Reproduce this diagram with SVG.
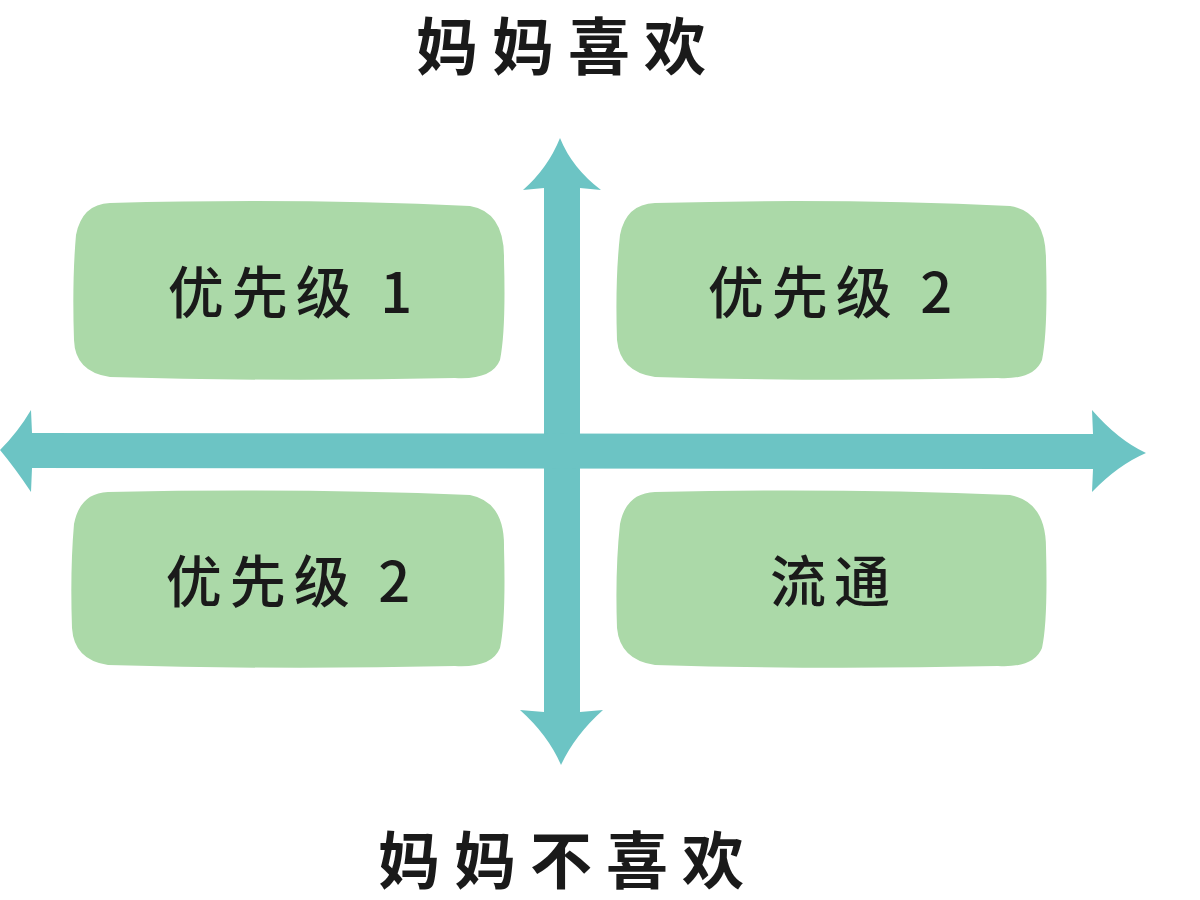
<svg xmlns="http://www.w3.org/2000/svg" width="1200" height="900" viewBox="0 0 1200 900">
<style>
.box{fill:#ABD9A8}
.arr{fill:#6CC4C4}
.t{font-family:"Noto Sans CJK SC","Noto Sans",sans-serif;fill:#1a1a1a;text-anchor:middle}
.title{font-size:62px;font-weight:700;letter-spacing:14px}
.lbl{font-size:56px;font-weight:500;letter-spacing:8px}
</style>
<rect width="1200" height="900" fill="#ffffff"/>
<g id="connectors">
  <path class="arr" d="M544 188 L523 190 Q548 168 560 138 Q572 168 601 190 L580 188 L580 712 L603 710 Q575 735 561 765 Q548 735 520 710 L544 712 Z"/>
  <path class="arr" d="M32 433 L31 410 Q18 432 0 450 Q15 468 31 492 L32 468 L1093 469 L1092 492 Q1118 465 1146 453 Q1118 440 1092 410 L1093 434 Z"/>
</g>
<g id="title-top"><text class="t title" x="568" y="70">妈妈喜欢</text></g>
<g id="title-bottom"><text class="t title" x="568" y="884">妈妈不喜欢</text></g>
<g id="node-tl">
  <path class="box" d="M110 203 Q300 198 470 206 Q505 212 504 260 Q506 330 500 360 Q492 380 455 378 Q280 382 110 377 Q75 372 74 340 Q72 280 76 235 Q82 204 110 203 Z"/>
  <text class="t lbl" x="294" y="313">优先级 1</text>
</g>
<g id="node-tr">
  <path class="box" d="M655 203 Q840 198 1010 206 Q1046 212 1046 260 Q1048 330 1042 360 Q1034 380 998 378 Q820 382 655 377 Q620 372 617 340 Q615 280 620 235 Q626 204 655 203 Z"/>
  <text class="t lbl" x="834" y="313">优先级 2</text>
</g>
<g id="node-bl">
  <path class="box" d="M108 492 Q300 488 470 495 Q505 502 504 548 Q506 620 500 648 Q492 668 455 666 Q280 670 108 665 Q74 660 72 628 Q70 570 74 524 Q80 493 108 492 Z"/>
  <text class="t lbl" x="292" y="602">优先级 2</text>
</g>
<g id="node-br">
  <path class="box" d="M655 492 Q840 488 1010 495 Q1046 502 1046 548 Q1048 620 1042 648 Q1034 668 998 666 Q820 670 655 665 Q620 660 617 628 Q615 570 620 524 Q626 493 655 492 Z"/>
  <text class="t lbl" x="834" y="602">流通</text>
</g>
</svg>
